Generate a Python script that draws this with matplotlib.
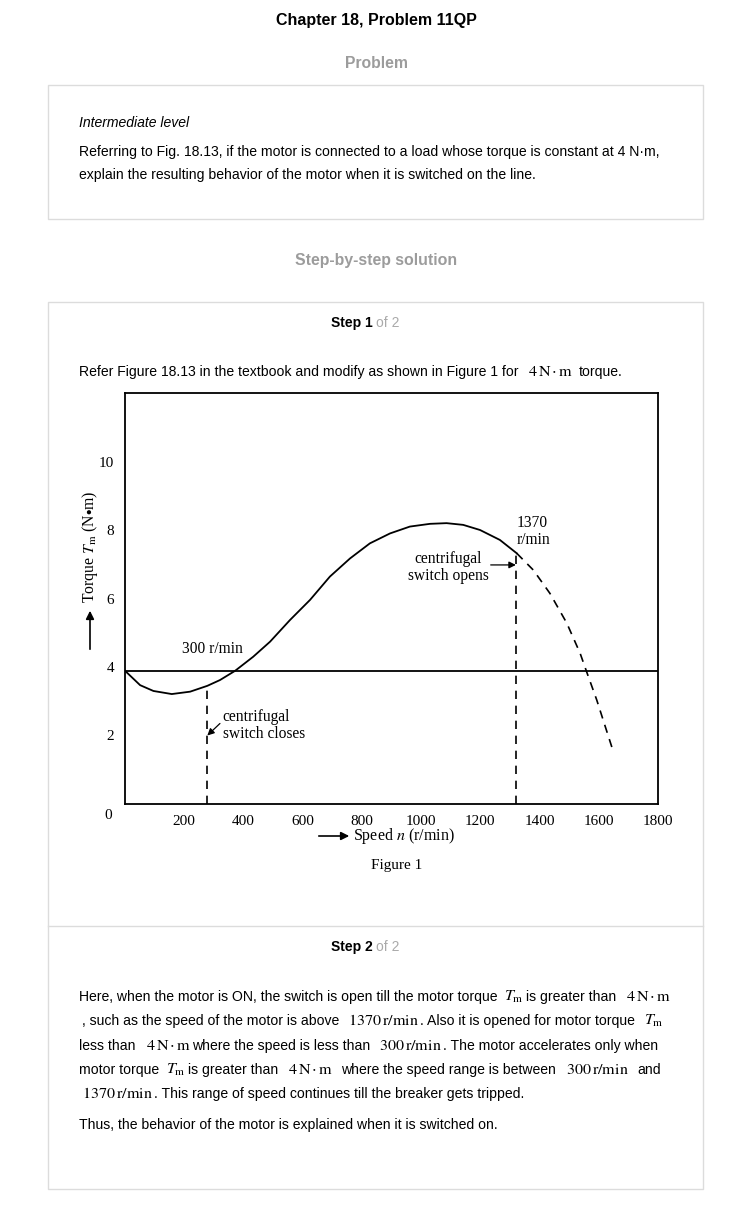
import matplotlib.pyplot as plt
from matplotlib.patches import Rectangle, FancyArrowPatch

plt.rcParams['mathtext.fontset'] = 'stix'

W, H = 752, 1216

# torque-speed curve
speed_solid = [0, 51, 96, 158, 220, 278, 321, 372, 433, 490, 557, 625, 692, 760, 827, 895,
               962, 1030, 1086, 1142, 1199, 1266, 1323]
torque_solid = [3.89, 3.47, 3.30, 3.21, 3.28, 3.45, 3.62, 3.89, 4.30, 4.74, 5.37, 5.96, 6.64,
                7.17, 7.61, 7.90, 8.10, 8.18, 8.20, 8.15, 8.00, 7.71, 7.32]
speed_dashed = [1323, 1379, 1435, 1492, 1537, 1559, 1593, 1649]
torque_dashed = [7.32, 6.83, 6.15, 5.28, 4.40, 3.86, 3.04, 1.53]
load_torque = 3.88
close_speed = 278
open_speed = 1320
xticks = [200, 400, 600, 800, 1000, 1200, 1400, 1600, 1800]
yticks = [2, 4, 6, 8, 10]

SANS = 'Liberation Sans'
SERIF = 'Liberation Serif'
GREY = '#9c9c9c'
BODY = 10.1
MATH = 11.6


def fx(x):
    return x / W


def fy(y):
    return 1 - y / H


def box(fig, x0, y0, x1, y1):
    fig.patches.append(Rectangle((fx(x0), fy(y1)), (x1 - x0) / W, (y1 - y0) / H,
                                 transform=fig.transFigure, fill=False,
                                 edgecolor='#dcdcdc', lw=1))


def txt(fig, x, y, s, **kw):
    kw.setdefault('family', SANS)
    kw.setdefault('size', BODY)
    kw.setdefault('va', 'center')
    return fig.text(fx(x), fy(y), s, **kw)


def run(fig, x, y, parts):
    # lay out sans text and serif math pieces one after another on a baseline
    r = fig.canvas.get_renderer()
    for s, math, gap in parts:
        x += gap
        if math:
            t = fig.text(fx(x), fy(y), s, size=MATH, va='baseline')
        else:
            t = fig.text(fx(x), fy(y), s, family=SANS, size=BODY, va='baseline')
        x += t.get_window_extent(r).width


fig = plt.figure(figsize=(W / 100, H / 100), dpi=100)

txt(fig, 376, 21, 'Chapter 18, Problem 11QP', ha='center', weight='bold', size=11.5)
txt(fig, 376, 63, 'Problem', ha='center', weight='bold', size=11.3, color=GREY)

box(fig, 48, 85, 703, 219)
txt(fig, 79, 123, 'Intermediate level', style='italic')
txt(fig, 79, 152, 'Referring to Fig. 18.13, if the motor is connected to a load whose torque is constant at 4 N\u00b7m,')
txt(fig, 79, 175, 'explain the resulting behavior of the motor when it is switched on the line.')

txt(fig, 376, 260, 'Step-by-step solution', ha='center', weight='bold', size=11.4, color=GREY)

box(fig, 48, 302, 703, 1189)
fig.lines.append(plt.Line2D([fx(48), fx(703)], [fy(926), fy(926)], transform=fig.transFigure,
                            color='#dcdcdc', lw=1))

txt(fig, 373, 323, 'Step 1', ha='right', weight='bold', size=10)
txt(fig, 376, 323, 'of 2', ha='left', size=10, color='#aaaaaa')
run(fig, 79, 376, [('Refer Figure 18.13 in the textbook and modify as shown in Figure 1 for', 0, 0),
                   (r'$4\,\mathrm{N\cdot m}$', 1, 9), ('torque.', 0, 6)])

# chart
ax = fig.add_axes([fx(125), fy(804), (658 - 125) / W, (804 - 393) / H])
ax.plot(speed_solid, torque_solid, color='black', lw=1.3)
ax.plot(speed_dashed, torque_dashed, color='black', lw=1.2, ls=(0, (5, 4)))
ax.axhline(load_torque, color='black', lw=1.3)
ax.plot([close_speed, close_speed], [0, torque_solid[5]], color='black', lw=1.2, ls=(0, (5, 4)))
ax.plot([open_speed, open_speed], [0, torque_solid[-1]], color='black', lw=1.2, ls=(0, (5, 4)))
ax.set_xlim(0, 1800)
ax.set_ylim(0, 12)
ax.set_xticks(xticks)
ax.set_yticks(yticks)
ax.tick_params(length=0, labelsize=11, pad=8)
for lab in ax.get_xticklabels() + ax.get_yticklabels():
    lab.set_family(SERIF)
for s in ax.spines.values():
    s.set_linewidth(1.3)
ax.text(-0.025, -0.012, '0', transform=ax.transAxes, ha='right', va='top', family=SERIF, size=11)

ax.text(295, 4.3, '300 r/min', ha='center', va='bottom', family=SERIF, size=11.2)
ax.annotate('centrifugal\nswitch closes', xy=(close_speed, 2.0), xytext=(330, 2.3),
            ha='left', va='center', family=SERIF, size=11.2, linespacing=1.1,
            arrowprops=dict(arrowstyle='-|>', color='black', lw=0.9, shrinkA=0, shrinkB=0,
                            relpos=(0.05, 0.75), mutation_scale=10))
ax.text(1091, 6.9, 'centrifugal\nswitch opens', ha='center', va='center', family=SERIF, size=11.2,
        linespacing=1.1)
ax.annotate('', xy=(open_speed, 6.98), xytext=(1235, 6.98),
            arrowprops=dict(arrowstyle='-|>', color='black', lw=0.9, shrinkA=0, shrinkB=0,
                            mutation_scale=10))
ax.text(1322, 7.95, '1370\nr/min', ha='left', va='center', family=SERIF, size=11.2, linespacing=1.1)

# axis titles with arrows
fig.patches.append(FancyArrowPatch(
    (fx(316), fy(836)), (fx(352), fy(836)), transform=fig.transFigure,
    arrowstyle='-|>', mutation_scale=12, color='black', lw=1.2))
txt(fig, 353, 836, r'Speed $n$ (r/min)', family=SERIF, size=11.5)
fig.patches.append(FancyArrowPatch(
    (fx(90), fy(652)), (fx(90), fy(608)), transform=fig.transFigure,
    arrowstyle='-|>', mutation_scale=12, color='black', lw=1.2))
txt(fig, 90, 547, r'Torque $T_{\mathrm{m}}$ (N$\bullet$m)', family=SERIF, size=11.3, rotation=90, ha='center')
txt(fig, 397, 865, 'Figure 1', family=SERIF, size=11, ha='center')

# step 2
txt(fig, 373, 947, 'Step 2', ha='right', weight='bold', size=10)
txt(fig, 376, 947, 'of 2', ha='left', size=10, color='#aaaaaa')
TM = r'$T_{\mathrm{m}}$'
NM = r'$4\,\mathrm{N\cdot m}$'
RPM1370 = r'$1370\,\mathrm{r/min}$'
RPM300 = r'$300\,\mathrm{r/min}$'
run(fig, 79, 1001, [('Here, when the motor is ON, the switch is open till the motor torque', 0, 0),
                    (TM, 1, 7), ('is greater than', 0, 2), (NM, 1, 10)])
run(fig, 82, 1025, [(', such as the speed of the motor is above', 0, 0), (RPM1370, 1, 9),
                    ('. Also it is opened for motor torque', 0, 1), (TM, 1, 9)])
run(fig, 79, 1050, [('less than', 0, 0), (NM, 1, 10), ('where the speed is less than', 0, 1),
                    (RPM300, 1, 9), ('. The motor accelerates only when', 0, 1)])
run(fig, 79, 1074, [('motor torque', 0, 0), (TM, 1, 7), ('is greater than', 0, 2), (NM, 1, 10),
                    ('where the speed range is between', 0, 8), (RPM300, 1, 10), ('and', 0, 8)])
run(fig, 82, 1098, [(RPM1370, 1, 0), ('. This range of speed continues till the breaker gets tripped.', 0, 1)])
txt(fig, 79, 1125, 'Thus, the behavior of the motor is explained when it is switched on.')

fig.savefig('out.png', dpi=100)
